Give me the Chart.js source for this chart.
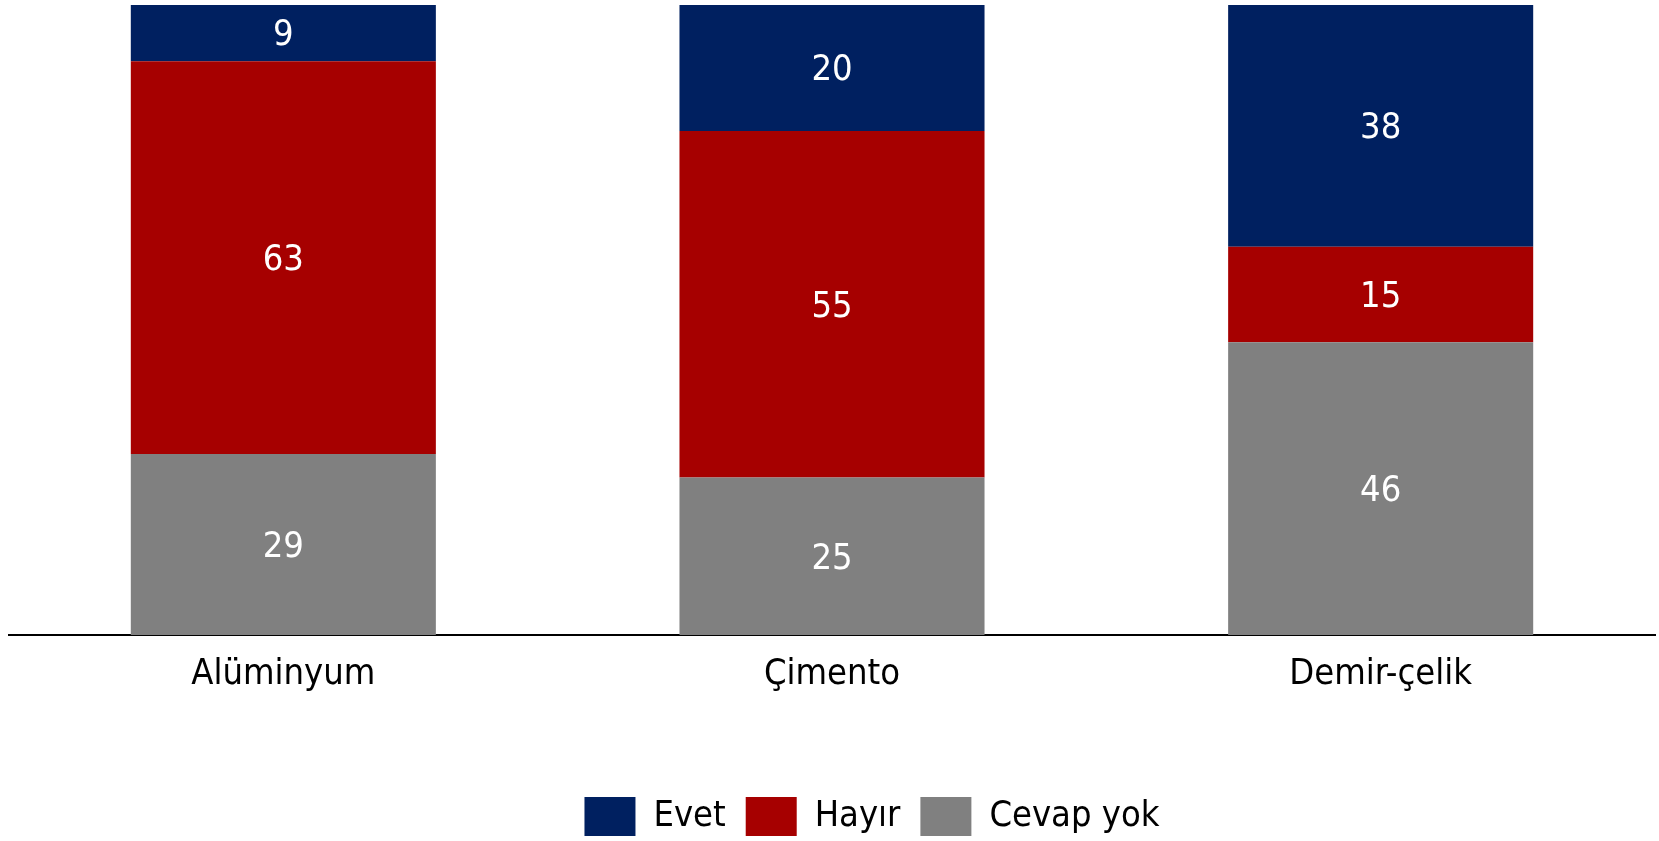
<!DOCTYPE html>
<html>
<head>
<meta charset="utf-8">
<script src="https://cdn.jsdelivr.net/npm/chart.js@4"></script>
<style>
html,body{margin:0;padding:0;background:#fff;}
#wrap{width:1659px;height:841px;position:relative;}
</style>
</head>
<body>
<div id="wrap"><canvas id="c"></canvas></div>
<script>
const categories = ["Alüminyum", "Çimento", "Demir-çelik"];
const seriesNames = ["Evet", "Hayır", "Cevap yok"];
const evet = [9, 20, 38];
const hayir = [63, 55, 15];
const cevapYok = [29, 25, 46];
const colors = ["#002060", "#A60000", "#808080"];

const FONT = "'DejaVu Sans Condensed', 'DejaVu Sans', sans-serif";
const raw = [evet, hayir, cevapYok];
const totals = categories.map((_, i) => raw.reduce((s, a) => s + a[i], 0));
// 100% stacked: order bottom-to-top is Cevap yok, Hayır, Evet
const order = [2, 1, 0];
const datasets = order.map(k => ({
  label: seriesNames[k],
  rawValues: raw[k],
  data: raw[k].map((v, i) => v / totals[i] * 100),
  backgroundColor: colors[k],
  borderWidth: 0,
  barPercentage: 0.556,
  categoryPercentage: 1.0,
  legendOrder: k
}));

const valueLabels = {
  id: 'valueLabels',
  afterDatasetsDraw(chart) {
    const ctx = chart.ctx;
    ctx.save();
    ctx.fillStyle = '#ffffff';
    ctx.font = '36px ' + FONT;
    ctx.textAlign = 'center';
    ctx.textBaseline = 'middle';
    chart.data.datasets.forEach((ds, di) => {
      const meta = chart.getDatasetMeta(di);
      meta.data.forEach((bar, i) => {
        const p = bar.getProps(['x', 'y', 'base'], true);
        ctx.fillText(String(ds.rawValues[i]), p.x, (p.y + p.base) / 2 + 3);
      });
    });
    ctx.restore();
  }
};

const legendShift = {
  id: 'legendShift',
  afterLayout(chart) {
    const lg = chart.legend;
    if (!lg) return;
    lg.left += 40; lg.right += 40;
    lg.top += 7; lg.bottom += 7;
  }
};

Chart.defaults.font.family = FONT;
Chart.defaults.color = '#000';

new Chart(document.getElementById('c'), {
  type: 'bar',
  data: { labels: categories, datasets },
  options: {
    responsive: true,
    maintainAspectRatio: false,
    animation: false,
    layout: { padding: { left: 9, right: 4, top: 5, bottom: 2 } },
    plugins: {
      tooltip: { enabled: false },
      legend: {
        position: 'bottom',
        labels: {
          font: { size: 36 },
          boxWidth: 51,
          boxHeight: 39,
          padding: 20,
          sort: (a, b) => datasets[a.datasetIndex].legendOrder - datasets[b.datasetIndex].legendOrder
        }
      }
    },
    scales: {
      x: {
        stacked: true,
        grid: { display: false, drawTicks: false },
        border: { display: true, color: '#000', width: 2 },
        ticks: { font: { size: 36 }, padding: 18, color: '#000' },
        afterFit(scale) { scale.height = 135; }
      },
      y: {
        stacked: true,
        display: false,
        min: 0,
        max: 100
      }
    }
  },
  plugins: [valueLabels, legendShift]
});
</script>
</body>
</html>
